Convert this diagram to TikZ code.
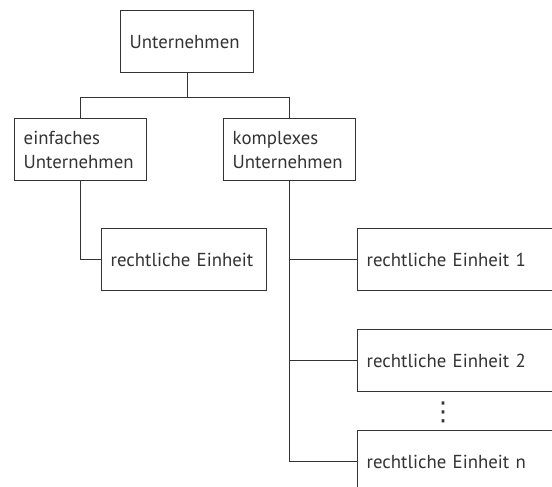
\documentclass[tikz,border=0pt]{standalone}
\usepackage{fontspec}
\setmainfont{PT Sans}
\newfontfamily\symfont{DejaVu Sans}
\usetikzlibrary{positioning}

\definecolor{linegray}{HTML}{333333}
\tikzset{
    unit/.style={draw=linegray, line width=0.7pt, anchor=north west, inner xsep=4.5pt,
        minimum height=31pt, align=left, text=linegray, font=\fontsize{9.4}{12}\selectfont},
    link/.style={draw=linegray, line width=0.7pt}
}

\begin{document}
\begin{tikzpicture}[x=0.5pt, y=-0.5pt]
    \clip (0,0) rectangle (552,487);
    \useasboundingbox (0,0) rectangle (552,487);

    \node [unit, text width=57.5pt] (firm) at (120,10) {Unternehmen};
    \node [unit, text width=57pt] (simple) at (14,118) {einfaches\\Unternehmen};
    \node [unit, text width=57pt] (complex) at (223,118) {komplexes\\Unternehmen};

    \node [unit, text width=73.5pt] (entity) at (101,228) {rechtliche Einheit};
    \node [unit, text width=100pt] (entityA) at (357,228) {rechtliche Einheit 1};
    \node [unit, text width=100pt] (entityB) at (357,329) {rechtliche Einheit 2};
    \node [unit, text width=100pt] (entityN) at (357,430) {rechtliche Einheit n};
    \node [text=linegray, inner sep=0pt, font=\symfont\fontsize{13}{13}\selectfont] (dots) at (443,412) {⋮};

    \draw [link] (firm.south) -- ++(0,24) -| (simple.north);
    \draw [link] (firm.south) -- ++(0,24) -| (complex.north);
    \draw [link] (simple.south) |- (entity.west);
    \draw [link] (complex.south) |- (entityA.west);
    \draw [link] (complex.south) |- (entityB.west);
    \draw [link] (complex.south) |- (entityN.west);
\end{tikzpicture}
\end{document}
